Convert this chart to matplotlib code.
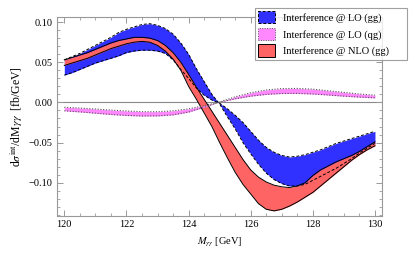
import numpy as np
import matplotlib
matplotlib.use('Agg')
import matplotlib.pyplot as plt
from matplotlib.patches import Patch
from matplotlib.ticker import MultipleLocator

plt.rcParams['font.family'] = ['Liberation Serif', 'DejaVu Serif']
plt.rcParams['mathtext.fontset'] = 'stix'

# M_gamma gamma grid (GeV)
m_gg = np.arange(120.0, 130.01, 0.25)

# interference @ LO (gg): the two edges of the band
lo_gg_a = [0.053, 0.057, 0.061, 0.066, 0.071, 0.076, 0.081, 0.087, 0.091, 0.094,
           0.097, 0.098, 0.096, 0.092, 0.085, 0.074, 0.060, 0.042, 0.026, 0.010,
           -0.002, -0.018, -0.033, -0.050, -0.064, -0.077, -0.088, -0.096, -0.101, -0.104,
           -0.104, -0.102, -0.097, -0.092, -0.087, -0.082, -0.076, -0.070, -0.063, -0.057,
           -0.051]
lo_gg_b = [0.034, 0.037, 0.041, 0.045, 0.049, 0.052, 0.055, 0.058, 0.062, 0.064,
           0.065, 0.065, 0.064, 0.061, 0.053, 0.041, 0.030, 0.018, 0.009, 0.003,
           -0.001, -0.008, -0.016, -0.025, -0.036, -0.047, -0.056, -0.062, -0.066, -0.068,
           -0.067, -0.065, -0.062, -0.059, -0.055, -0.051, -0.048, -0.045, -0.042, -0.039,
           -0.036]

# interference @ NLO (gg)
nlo_gg_hi = [0.053, 0.056, 0.059, 0.062, 0.066, 0.070, 0.074, 0.077, 0.079, 0.081,
             0.081, 0.080, 0.077, 0.071, 0.062, 0.050, 0.035, 0.019, 0.004, -0.011,
             -0.026, -0.041, -0.056, -0.071, -0.084, -0.093, -0.099, -0.103, -0.105, -0.106,
             -0.104, -0.100, -0.091, -0.084, -0.079, -0.074, -0.070, -0.066, -0.061, -0.055,
             -0.049]
nlo_gg_lo = [0.046, 0.049, 0.052, 0.055, 0.059, 0.063, 0.067, 0.070, 0.073, 0.075,
             0.076, 0.075, 0.071, 0.064, 0.054, 0.040, 0.020, 0.004, -0.013, -0.030,
             -0.050, -0.069, -0.087, -0.102, -0.114, -0.126, -0.133, -0.135, -0.133, -0.129,
             -0.124, -0.118, -0.112, -0.104, -0.096, -0.088, -0.080, -0.072, -0.065, -0.059,
             -0.054]

# interference @ LO (qg)
m_qg = np.arange(120.0, 130.01, 0.5)
lo_qg_a = [-0.0104, -0.0118, -0.0134, -0.0150, -0.0162, -0.0169, -0.0168, -0.0155, -0.0120, -0.0060,
           0.0005, 0.0070, 0.0120, 0.0155, 0.0172, 0.0174, 0.0165, 0.0145, 0.0125, 0.0105,
           0.0090]
lo_qg_b = [-0.0060, -0.0070, -0.0082, -0.0095, -0.0107, -0.0115, -0.0116, -0.0105, -0.0080, -0.0040,
           0.0003, 0.0045, 0.0078, 0.0100, 0.0111, 0.0112, 0.0105, 0.0092, 0.0078, 0.0066,
           0.0057]

labels = ['Interference @ LO (gg)', 'Interference @ LO (qg)', 'Interference @ NLO (gg)']
c_blue = '#3030ff'
c_pink = '#ff88ff'
c_red = '#ff6464'

fig = plt.figure(figsize=(4.15, 2.6), dpi=100)
ax = fig.add_axes([0.137, 0.171, 0.783, 0.762])

ax.axhline(0, color='#888888', lw=0.8, zorder=1)

ax.fill_between(m_gg, lo_gg_a, lo_gg_b, color=c_blue, lw=0, zorder=2)
ax.fill_between(m_gg, nlo_gg_hi, nlo_gg_lo, color=c_red, lw=0, zorder=3)
ax.fill_between(m_qg, lo_qg_a, lo_qg_b, color=c_pink, lw=0, zorder=4)

for y in (nlo_gg_hi, nlo_gg_lo):
    ax.plot(m_gg, y, color='k', lw=0.7, zorder=5)
for y in (lo_gg_a, lo_gg_b):
    ax.plot(m_gg, y, color='k', lw=0.7, ls=(0, (3, 2)), zorder=6)
for y in (lo_qg_a, lo_qg_b):
    ax.plot(m_qg, y, color='#555555', lw=0.8, ls=(0, (1, 1.5)), zorder=6)

ax.set_xlim(119.76, 130.22)
ax.set_ylim(-0.1408, 0.1058)
ax.xaxis.set_major_locator(MultipleLocator(2))
ax.xaxis.set_minor_locator(MultipleLocator(0.5))
ax.yaxis.set_major_locator(MultipleLocator(0.05))
ax.yaxis.set_minor_locator(MultipleLocator(0.01))
ax.yaxis.set_major_formatter(lambda v, p: f'{v:.2f}'.replace('-', '\u2212'))
ax.tick_params(which='both', direction='in', top=True, right=True, color='#999999',
               labelsize=7.5, pad=3)
ax.tick_params(which='major', length=4, width=0.7)
ax.tick_params(which='minor', length=2, width=0.6)
for s in ax.spines.values():
    s.set_color('#999999')
    s.set_linewidth(0.8)

ax.set_xlabel(r'$M_{\gamma\gamma}$ [GeV]', fontsize=7.5, labelpad=5)
ax.set_ylabel(r'd$\sigma^{\rm int}$/dM$\gamma\gamma$  [fb/GeV]', fontsize=8.5, labelpad=3)

handles = [Patch(facecolor=c_blue, edgecolor='k', ls=(0, (3, 2)), lw=0.7),
           Patch(facecolor=c_pink, edgecolor='#555555', ls=(0, (1, 1.5)), lw=0.7),
           Patch(facecolor=c_red, edgecolor='k', lw=0.7)]
leg = fig.legend(handles, labels, loc='upper left',
                 bbox_to_anchor=(255 / 415, 1 - 68 / 260, 152 / 415, 60 / 260), mode='expand',
                 fontsize=7.5, frameon=True, fancybox=False, edgecolor='#888888',
                 handlelength=1.6, handleheight=1.45, handletextpad=0.8,
                 labelspacing=0.4, borderpad=0.3, borderaxespad=0)
leg.get_frame().set_linewidth(0.8)

fig.savefig('out.png', dpi=100)
